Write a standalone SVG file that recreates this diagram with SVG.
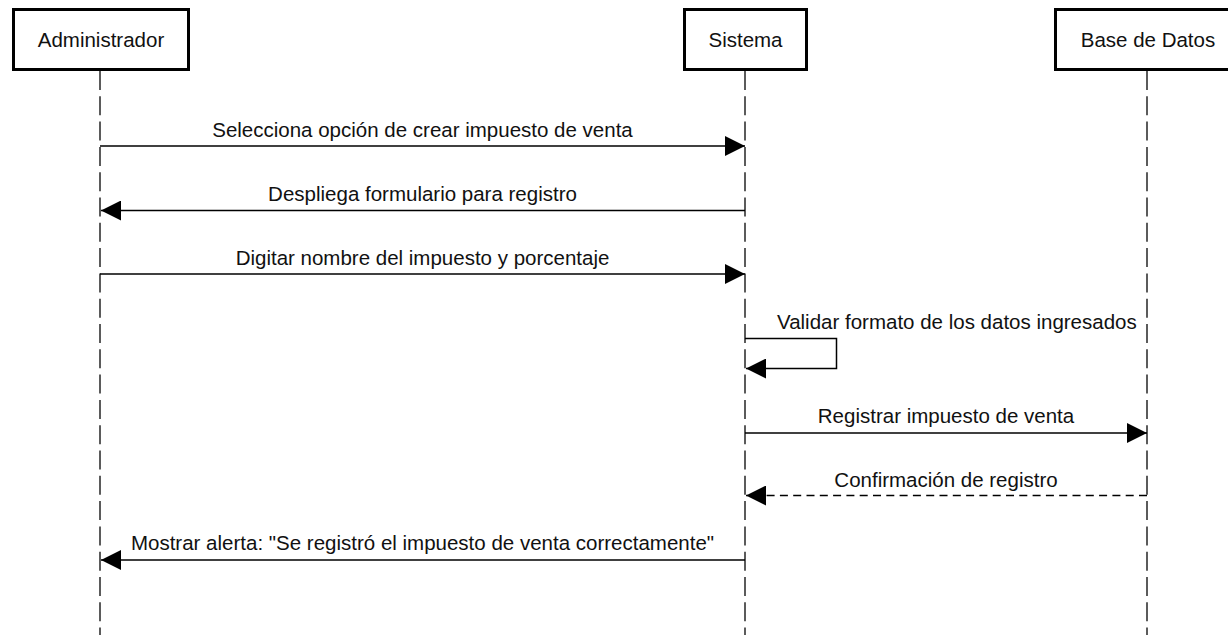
<svg xmlns="http://www.w3.org/2000/svg" width="1228" height="635" viewBox="0 0 1228 635">
<style>
text{font-family:"Liberation Sans",Arial,sans-serif;font-size:20.5px;fill:#111;}
.mid{text-anchor:middle;}
.box{fill:#fff;stroke:#000;stroke-width:3;}
.life{stroke:#333;stroke-width:1.6;stroke-dasharray:19 6.3;fill:none;}
.msg{stroke:#000;stroke-width:1.5;fill:none;}
.ret{stroke:#000;stroke-width:1.5;fill:none;stroke-dasharray:8 5.3;}
</style>
<defs>
<marker id="ah" markerUnits="userSpaceOnUse" markerWidth="20" markerHeight="20" viewBox="0 0 18 18" refX="18" refY="9" orient="auto">
<path d="M0,0 L18,9 L0,18 Z" fill="#000"/>
</marker>
</defs>
<rect width="1228" height="635" fill="#fff"/>
<g id="lifelines">
<line class="life" x1="100" y1="71" x2="100" y2="635"/>
<line class="life" x1="745" y1="71" x2="745" y2="635"/>
<line class="life" x1="1147" y1="71" x2="1147" y2="635"/>
</g>
<g id="node-administrador">
<rect class="box" x="13.5" y="9.5" width="175" height="60"/>
<text class="mid" x="101" y="47">Administrador</text>
</g>
<g id="node-sistema">
<rect class="box" x="684.5" y="9.5" width="122" height="60"/>
<text class="mid" x="745.5" y="47">Sistema</text>
</g>
<g id="node-basededatos">
<rect class="box" x="1055.5" y="9.5" width="184" height="60"/>
<text class="mid" x="1148" y="47">Base de Datos</text>
</g>
<g id="connectors">
<line class="msg" x1="100" y1="146" x2="745" y2="146" marker-end="url(#ah)"/>
<text class="mid" x="422.5" y="137">Selecciona opción de crear impuesto de venta</text>
<line class="msg" x1="745" y1="210.5" x2="101" y2="210.5" marker-end="url(#ah)"/>
<text class="mid" x="422.5" y="201">Despliega formulario para registro</text>
<line class="msg" x1="100" y1="274" x2="745" y2="274" marker-end="url(#ah)"/>
<text class="mid" x="422.5" y="265">Digitar nombre del impuesto y porcentaje</text>
<polyline class="msg" points="745,338.5 836.5,338.5 836.5,368.5 746,368.5" marker-end="url(#ah)"/>
<text x="777" y="329">Validar formato de los datos ingresados</text>
<line class="msg" x1="745" y1="433" x2="1147" y2="433" marker-end="url(#ah)"/>
<text class="mid" x="946" y="423">Registrar impuesto de venta</text>
<line class="ret" x1="1147" y1="495.5" x2="746" y2="495.5" marker-end="url(#ah)"/>
<text class="mid" x="946" y="487">Confirmación de registro</text>
<line class="msg" x1="745" y1="560" x2="101" y2="560" marker-end="url(#ah)"/>
<text class="mid" x="422.5" y="550">Mostrar alerta: "Se registró el impuesto de venta correctamente"</text>
</g>
</svg>
